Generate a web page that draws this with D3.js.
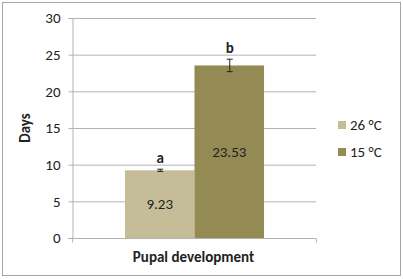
<!DOCTYPE html>
<html>
<head>
<meta charset="utf-8">
<script src="https://cdn.jsdelivr.net/npm/d3@7"></script>
<style>
  body { margin: 0; background: #fff; }
  text { font-family: Carlito, Lato, "Liberation Sans", sans-serif; fill: #222; }
</style>
</head>
<body>
<svg id="chart"></svg>
<script>
// data
const categories = ["Pupal development"];
const series = ["26 °C", "15 °C"];
const values = [9.23, 23.53];
const errors = [0.15, 0.85];
const letters = ["a", "b"];
const yTicks = [0, 5, 10, 15, 20, 25, 30];

const colors = ["#c4bd97", "#948a54"];

const W = 403, H = 279;
const margin = {top: 18, right: 87, bottom: 41, left: 72};
const width = W - margin.left - margin.right;
const height = H - margin.top - margin.bottom;
const fs = 15;

const svg = d3.select("#chart").attr("width", W).attr("height", H);

// outer border
svg.append("rect")
  .attr("x", 2.5).attr("y", 2.5)
  .attr("width", W - 5).attr("height", H - 6)
  .attr("fill", "#fff").attr("stroke", "#a6a6a6");

const g = svg.append("g").attr("transform", `translate(${margin.left},${margin.top})`);

const y = d3.scaleLinear().domain([0, 30]).range([height, 0]);
const x0 = d3.scaleBand().domain(categories).range([0, width]);

// bars span roughly 125..264 of plot 72..316
const groupInner = d3.scaleBand().domain(series)
  .range([x0(categories[0]) + width * 0.217, x0(categories[0]) + width * 0.787]);

// gridlines
g.selectAll(".grid").data(yTicks.filter(d => d > 0)).enter().append("line")
  .attr("x1", 0).attr("x2", width)
  .attr("y1", d => y(d) + 0.5).attr("y2", d => y(d) + 0.5)
  .attr("stroke", "#b3b3b3").attr("stroke-width", 1);

// y axis
const yAxis = g.append("g").attr("transform", "translate(0.5,0)")
  .call(d3.axisLeft(y).tickValues(yTicks).tickSize(4).tickPadding(8));
yAxis.select(".domain").attr("stroke", "#b3b3b3");
yAxis.selectAll(".tick line").attr("stroke", "#b3b3b3");
yAxis.selectAll("text").attr("font-size", fs).style("fill", "#222")
  .attr("font-family", "Carlito, Lato, sans-serif");

// x axis
const xAxis = g.append("g").attr("transform", `translate(0,${height + 0.5})`);
xAxis.append("line").attr("x1", -4).attr("x2", width).attr("stroke", "#b3b3b3");
xAxis.selectAll(".xt").data([0, width]).enter().append("line")
  .attr("x1", d => d + 0.5).attr("x2", d => d + 0.5).attr("y1", 0).attr("y2", 4)
  .attr("stroke", "#b3b3b3");

// bars
const bars = g.selectAll(".bar").data(values).enter();
bars.append("rect")
  .attr("x", (d, i) => groupInner(series[i]))
  .attr("width", groupInner.bandwidth())
  .attr("y", d => y(d))
  .attr("height", d => y(0) - y(d))
  .attr("fill", (d, i) => colors[i]);

// value labels
bars.append("text")
  .attr("x", (d, i) => groupInner(series[i]) + groupInner.bandwidth() / 2)
  .attr("y", d => y(d / 2))
  .attr("dy", "0.35em")
  .attr("text-anchor", "middle")
  .attr("font-size", fs)
  .text(d => d.toFixed(2));

// error bars
values.forEach((v, i) => {
  const cx = groupInner(series[i]) + groupInner.bandwidth() / 2 + 0.5;
  const e = g.append("g").attr("stroke", "#222").attr("stroke-width", 1);
  e.append("line").attr("x1", cx).attr("x2", cx).attr("y1", y(v + errors[i])).attr("y2", y(v - errors[i]));
  e.append("line").attr("x1", cx - 3).attr("x2", cx + 3).attr("y1", y(v + errors[i])).attr("y2", y(v + errors[i]));
  e.append("line").attr("x1", cx - 3).attr("x2", cx + 3).attr("y1", y(v - errors[i])).attr("y2", y(v - errors[i]));
  // significance letters
  g.append("text")
    .attr("x", cx)
    .attr("y", y(v + errors[i]) - 6)
    .attr("text-anchor", "middle")
    .attr("font-size", fs).attr("font-weight", "bold")
    .text(letters[i]);
});

// axis titles
g.append("text")
  .attr("transform", `translate(${-42},${height / 2}) rotate(-90)`)
  .attr("text-anchor", "middle")
  .attr("font-size", fs).attr("font-weight", "bold")
  .text("Days");

g.append("text")
  .attr("x", width / 2 - 0.5)
  .attr("y", height + 24)
  .attr("text-anchor", "middle")
  .attr("font-size", fs).attr("font-weight", "bold")
  .text(categories[0]);

// legend
const legend = svg.append("g").attr("transform", "translate(338,119)");
series.forEach((s, i) => {
  const row = legend.append("g").attr("transform", `translate(0,${i * 27})`);
  row.append("rect").attr("width", 8).attr("height", 8).attr("y", 2).attr("fill", colors[i]);
  row.append("text").attr("x", 12).attr("y", 6).attr("dy", "0.35em")
    .attr("font-size", fs).text(s);
});
</script>
</body>
</html>
